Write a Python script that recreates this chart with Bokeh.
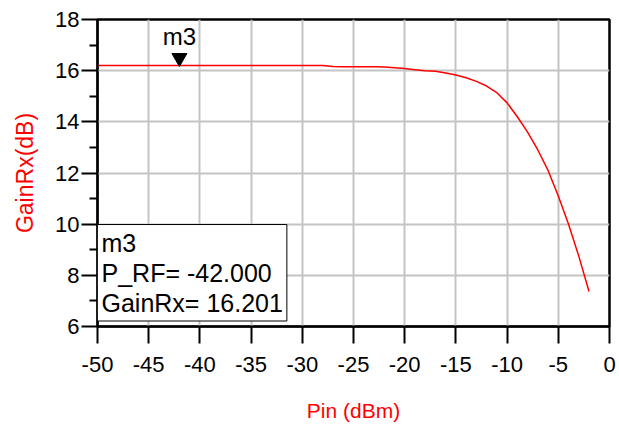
from bokeh.plotting import figure
from bokeh.models import Range1d, FixedTicker, Label, ColumnDataSource
from bokeh.core.properties import value
from bokeh.transform import dodge
from bokeh.embed import file_html
from bokeh.resources import INLINE

# ---- data ----
pin_dbm = [-50, -49, -48, -47, -46, -45, -44, -43, -42, -41,
           -40, -39, -38, -37, -36, -35, -34, -33, -32, -31,
           -30, -29, -28, -27, -26, -25, -24, -23, -22, -21,
           -20, -19, -18, -17, -16, -15, -14, -13, -12, -11,
           -10, -9, -8, -7, -6, -5, -4, -3, -2]
gain_rx = [16.201, 16.201, 16.201, 16.201, 16.201, 16.201, 16.201, 16.201, 16.201, 16.201,
           16.201, 16.201, 16.201, 16.201, 16.201, 16.201, 16.201, 16.201, 16.201, 16.201,
           16.201, 16.201, 16.201, 16.16, 16.15, 16.15, 16.15, 16.15, 16.14, 16.11,
           16.08, 16.04, 16.00, 15.98, 15.91, 15.83, 15.72, 15.58, 15.40, 15.14,
           14.74, 14.20, 13.60, 12.90, 12.10, 11.10, 10.00, 8.75, 7.37]

x_ticks = [-50, -45, -40, -35, -30, -25, -20, -15, -10, -5, 0]
y_ticks = [6, 8, 10, 12, 14, 16, 18]
y_minor_ticks = [7, 9, 11, 13, 15, 17]

marker_name = "m3"
marker_pin = -42.0
marker_gain = 16.201

RED = "#ff0000"
GRID = "#c4c4c4"

p = figure(width=619, height=424, output_backend="svg", toolbar_location=None,
           x_range=Range1d(-50, 0), y_range=Range1d(6, 18),
           min_border_left=97, min_border_right=10, min_border_top=19,
           min_border_bottom=98)
p.background_fill_color = "white"
p.border_fill_color = "white"
p.outline_line_color = "black"
p.outline_line_width = 2.5

# axes / ticks
xt = FixedTicker(ticks=x_ticks, minor_ticks=[])
yt = FixedTicker(ticks=y_ticks, minor_ticks=y_minor_ticks)
p.xaxis.ticker = xt
p.yaxis.ticker = yt
p.xgrid.ticker = xt
p.ygrid.ticker = yt
p.xaxis.major_label_overrides = {t: str(t) for t in x_ticks}
p.yaxis.major_label_overrides = {t: str(t) for t in y_ticks}
for g in (p.xgrid, p.ygrid):
    g.grid_line_color = GRID
    g.grid_line_width = 2

for ax in (p.xaxis, p.yaxis):
    ax.axis_line_color = "black"
    ax.axis_line_width = 2
    ax.major_tick_line_color = "black"
    ax.major_tick_line_width = 2
    ax.minor_tick_line_color = "black"
    ax.minor_tick_line_width = 2
    ax.major_tick_in = 0
    ax.minor_tick_in = 0
    ax.major_label_text_font = "Liberation Sans"
    ax.major_label_text_font_size = "22px"
    ax.major_label_text_color = "black"
    ax.axis_label_text_color = RED
    ax.axis_label_text_font = "Liberation Sans"
    ax.axis_label_text_font_style = "normal"

p.xaxis.major_tick_out = 17
p.xaxis.minor_tick_out = 0
p.xaxis.major_label_standoff = 13
p.xaxis.axis_label = "Pin (dBm)"
p.xaxis.axis_label_text_font_size = "21px"
p.xaxis.axis_label_standoff = 24

p.yaxis.major_tick_out = 16
p.yaxis.minor_tick_out = 8
p.yaxis.major_label_standoff = 2
p.yaxis.axis_label = "GainRx(dB)"
p.yaxis.axis_label_text_font_size = "23px"
p.yaxis.axis_label_standoff = 14

# curve
p.line(pin_dbm, gain_rx, line_color=RED, line_width=1.5)

# marker
msrc = ColumnDataSource(dict(x=[marker_pin], y=[marker_gain], name=[marker_name]))
p.scatter(x="x", y=dodge("y", 0.30, range=p.y_range), source=msrc,
          marker="inverted_triangle", size=15, fill_color="black", line_color="black")
p.text(x="x", y="y", text="name", source=msrc, text_align="center",
       text_baseline="alphabetic", y_offset=-29,
       text_font=value("Liberation Sans"), text_font_size="24px", text_color="black")

# marker readout box
readout = f"{marker_name}\nP_RF= {marker_pin:.3f}\nGainRx= {marker_gain:.3f}"
lbl = Label(x=x_ticks[0], y=y_ticks[0], x_units="data", y_units="data",
            text=readout, text_align="left", text_baseline="bottom",
            x_offset=0, y_offset=5.5,
            text_font="Liberation Sans", text_font_size="25px", text_color="black",
            text_line_height=1.08,
            background_fill_color="white", border_line_color="black",
            border_line_width=1, padding=4)
p.add_layout(lbl)

open("out.html", "w").write(file_html(p, INLINE))
